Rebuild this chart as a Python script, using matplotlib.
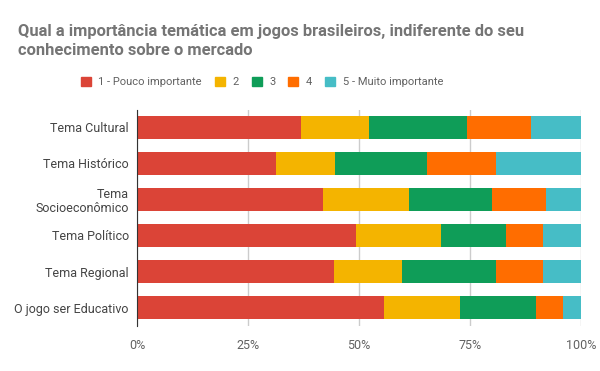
import numpy as np
import matplotlib.pyplot as plt
from matplotlib.patches import Patch

plt.rcParams['font.family'] = ['Roboto', 'DejaVu Sans']

categories = ["Tema Cultural", "Tema Histórico", "Tema\nSocioeconômico",
              "Tema Político", "Tema Regional", "O jogo ser Educativo"]
series_names = ["1 - Pouco importante", "2", "3", "4", "5 - Muito importante"]
s1 = [36.9, 31.3, 41.9, 49.3, 44.3, 55.6]
s2 = [15.3, 13.3, 19.4, 19.2, 15.3, 17.1]
s3 = [22.1, 20.7, 18.6, 14.6, 21.2, 17.1]
s4 = [14.4, 15.5, 12.2, 8.3, 10.6, 6.1]
s5 = [11.3, 19.2, 7.9, 8.6, 8.6, 4.1]
colors = ["#DB4437", "#F4B400", "#0F9D58", "#FF6D00", "#46BDC6"]
xticks = [0, 25, 50, 75, 100]
xticklabels = ["0%", "25%", "50%", "75%", "100%"]

fig = plt.figure(figsize=(6, 3.71), dpi=100)
ax = fig.add_axes([137/600, 1 - 325.5/371, 444/600, 216/371])

y = np.arange(len(categories))
left = np.zeros(len(categories))
for vals, c in zip([s1, s2, s3, s4, s5], colors):
    ax.barh(y, vals, left=left, height=0.64, color=c, zorder=2)
    left += np.array(vals)

ax.set_ylim(len(categories) - 0.5, -0.5)
ax.set_xlim(0, 100)
ax.set_yticks(y)
ax.set_yticklabels(categories, fontsize=9, color="#444444", linespacing=1.1)
ax.set_xticks(xticks)
ax.set_xticklabels(xticklabels, fontsize=9, color="#616161")
ax.tick_params(length=0, pad=6)
ax.tick_params(axis='x', pad=10)
ax.grid(axis='x', color="#cccccc", linewidth=1, zorder=0)
for s in ["top", "right", "bottom"]:
    ax.spines[s].set_visible(False)
ax.spines["left"].set_color("#333333")
ax.spines["left"].set_zorder(3)

fig.text(18/600, 1 - 41/371, "Qual a importância temática em jogos brasileiros, indiferente do seu\nconhecimento sobre o mercado",
         fontsize=11.9, fontweight="bold", color="#757575", va="center", ha="left", linespacing=1.3)

handles = [Patch(facecolor=c, edgecolor=c) for c in colors]
fig.legend(handles, series_names, loc="center", bbox_to_anchor=(262/600, 1 - 82/371), ncol=5,
           frameon=False, fontsize=8, handlelength=0.9, handleheight=0.9,
           handletextpad=0.7, columnspacing=1.15, labelcolor="#616161")

fig.savefig("out.png", dpi=100)
